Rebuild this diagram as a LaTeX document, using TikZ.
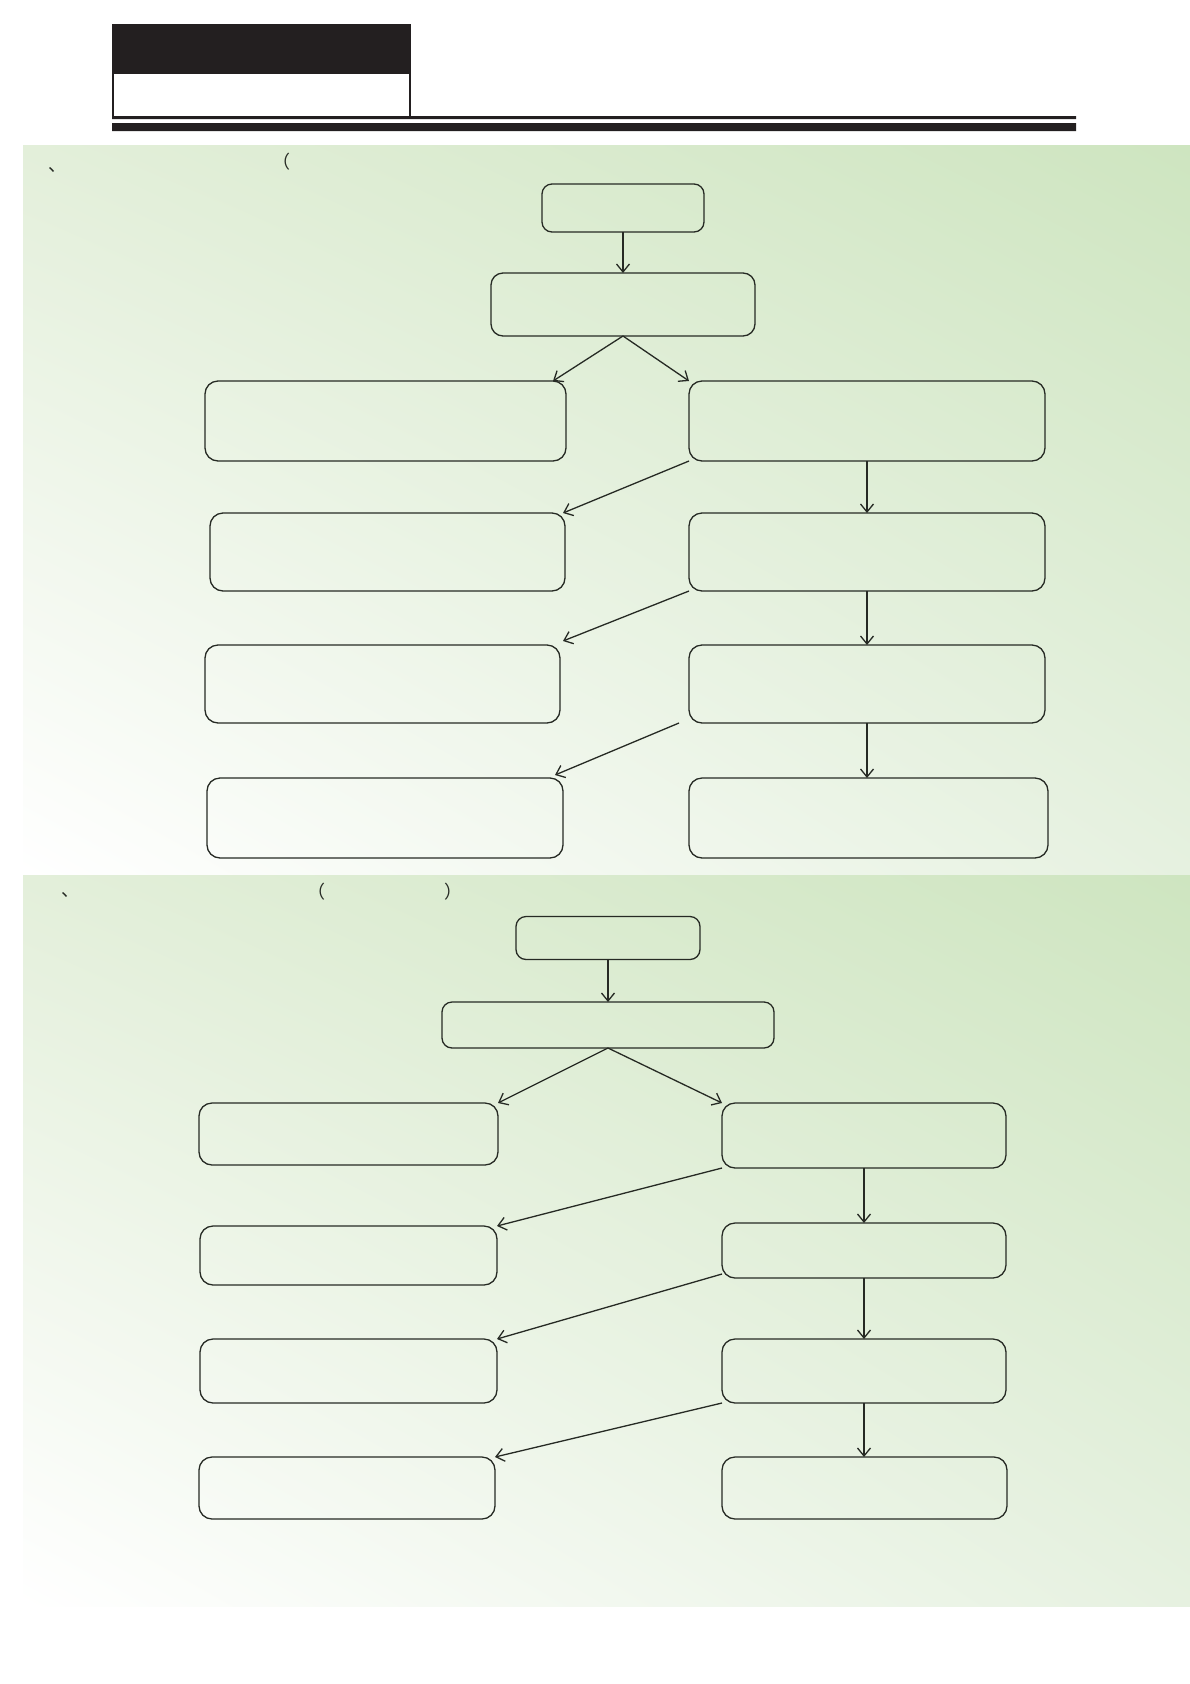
\documentclass[tikz,border=0pt]{standalone}
\usepackage{fontspec}
\newfontfamily\cjk{Noto Sans CJK SC}
\usepackage{tikz}
\usetikzlibrary{arrows.meta,shadings}

\definecolor{hdrblack}{HTML}{231F20}
\definecolor{lineink}{HTML}{262A24}
\definecolor{greenA}{HTML}{E3EFDA}
\definecolor{greenB}{HTML}{CEE5C0}
\definecolor{greenC}{HTML}{E6F1E0}

\begin{document}
\begin{tikzpicture}[x=1pt,y=-1pt,
    stepbox/.style={draw=lineink, line width=1.3pt, rounded corners=13pt,
        inner sep=0pt, outer sep=0pt},
    flow/.style={draw=lineink, line width=1.3pt,
        -{Straight Barb[length=8pt,width=13pt]}},
    glyph/.style={inner sep=0pt, text=lineink, font=\cjk\fontsize{18}{18}\selectfont}
    ]
    \useasboundingbox (0,0) rectangle (1190,1684);

    % header
    \fill[hdrblack] (112,24) rectangle (411,73);
    \draw[hdrblack, line width=2pt] (113,73) rectangle (410,117);
    \fill[hdrblack]
    (112,116) rectangle (1076,119)
    (112,123) rectangle (1076,131)
    ;

    % backgrounds
    \shade[upper left=greenA, upper right=greenB, lower left=white, lower right=greenC]
    (23,145) rectangle (1190,874);
    \shade[upper left=greenA, upper right=greenB, lower left=white, lower right=greenC]
    (23,875) rectangle (1190,1606);

    \node[glyph, anchor=base west] (c1) at (48,171) {、};
    \node[glyph, anchor=base west] (p1) at (272,168) {（};
    \node[glyph, anchor=base west] (c2) at (61,896) {、};
    \node[glyph, anchor=base west] (p2) at (307,898) {（};
    \node[glyph, anchor=base west] (p3) at (444,898) {）};

    % first chart
    \node[stepbox, rounded corners=10pt, minimum width=162pt, minimum height=48pt] (s1top) at (623,208) {};
    \node[stepbox, rounded corners=12pt, minimum width=264pt, minimum height=63pt] (s1mid) at (623,304.5) {};
    \node[stepbox, minimum width=361pt, minimum height=80pt] (s1l1) at (385.5,421) {};
    \node[stepbox, minimum width=356pt, minimum height=80pt] (s1r1) at (867,421) {};
    \node[stepbox, minimum width=355pt, minimum height=78pt] (s1l2) at (387.5,552) {};
    \node[stepbox, minimum width=356pt, minimum height=78pt] (s1r2) at (867,552) {};
    \node[stepbox, minimum width=355pt, minimum height=78pt] (s1l3) at (382.5,684) {};
    \node[stepbox, minimum width=356pt, minimum height=78pt] (s1r3) at (867,684) {};
    \node[stepbox, minimum width=356pt, minimum height=80pt] (s1l4) at (385,818) {};
    \node[stepbox, minimum width=359pt, minimum height=80pt] (s1r4) at (868.5,818) {};

    \draw[flow] (s1top.south) -- (s1mid.north);
    \draw[flow] (s1mid.south) -- ([xshift=-13pt]s1l1.north east);
    \draw[flow] (s1mid.south) -- (s1r1.north west);
    \draw[flow] (s1r1.south west) -- ([xshift=-2pt]s1l2.north east);
    \draw[flow] (s1r2.south west) -- ([xshift=3pt,yshift=4pt]s1l3.north east);
    \draw[flow] ([xshift=-10pt]s1r3.south west) -- ([xshift=-8pt,yshift=3pt]s1l4.north east);
    \draw[flow] (s1r1.south) -- (s1r2.north);
    \draw[flow] (s1r2.south) -- (s1r3.north);
    \draw[flow] (s1r3.south) -- (s1r3.south |- s1r4.north);

    % second chart
    \node[stepbox, rounded corners=10pt, minimum width=184pt, minimum height=43pt] (s2top) at (608,938) {};
    \node[stepbox, rounded corners=10pt, minimum width=332pt, minimum height=46pt] (s2mid) at (608,1025) {};
    \node[stepbox, minimum width=299pt, minimum height=62pt] (s2l1) at (348.5,1134) {};
    \node[stepbox, minimum width=284pt, minimum height=65pt] (s2r1) at (864,1135.5) {};
    \node[stepbox, minimum width=297pt, minimum height=59pt] (s2l2) at (348.5,1255.5) {};
    \node[stepbox, minimum width=284pt, minimum height=55pt] (s2r2) at (864,1250.5) {};
    \node[stepbox, minimum width=297pt, minimum height=64pt] (s2l3) at (348.5,1371) {};
    \node[stepbox, minimum width=284pt, minimum height=64pt] (s2r3) at (864,1371) {};
    \node[stepbox, minimum width=296pt, minimum height=62pt] (s2l4) at (347,1488) {};
    \node[stepbox, minimum width=285pt, minimum height=62pt] (s2r4) at (864.5,1488) {};

    \draw[flow] (s2top.south) -- (s2mid.north);
    \draw[flow] (s2mid.south) -- (s2l1.north east);
    \draw[flow] (s2mid.south) -- (s2r1.north west);
    \draw[flow] (s2r1.south west) -- (s2l2.north east);
    \draw[flow] ([yshift=4pt]s2r2.south west) -- (s2l3.north east);
    \draw[flow] (s2r3.south west) -- (s2l4.north east);
    \draw[flow] (s2r1.south) -- (s2r2.north);
    \draw[flow] (s2r2.south) -- (s2r3.north);
    \draw[flow] (s2r3.south) -- (s2r3.south |- s2r4.north);
\end{tikzpicture}
\end{document}
